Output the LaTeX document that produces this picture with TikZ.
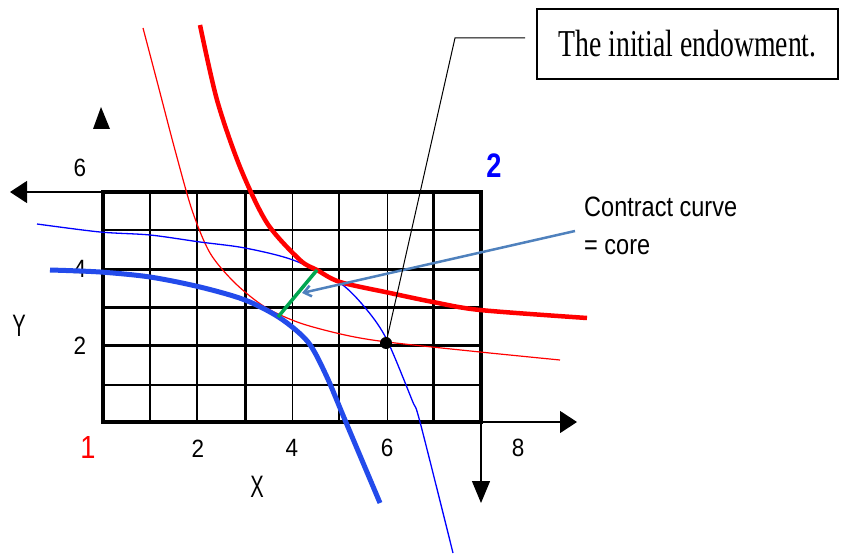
\documentclass[tikz,border=0pt]{standalone}
\usepackage{fontspec}
\usepackage{graphicx}
\usepackage{xcolor}
\usepackage{tikz}
\usetikzlibrary{positioning, arrows.meta}
\setmainfont{Liberation Serif}
\newfontfamily\arialfont{Liberation Sans}
\definecolor{thickblue}{RGB}{35,75,235}
\definecolor{coregreen}{RGB}{0,166,80}
\definecolor{steel}{RGB}{79,129,189}
\newcommand{\squash}[2]{\scalebox{#1}[1]{#2}}

\begin{document}
\begin{tikzpicture}[x=1pt, y=-1pt,
  gridline/.style={line width=#1},
  axisarrow/.style={line width=1.2pt, -{Triangle[length=17pt,width=22pt]}},
  redthick/.style={red, line width=4.5pt},
  redthin/.style={red, line width=1.2pt},
  bluethick/.style={thickblue, line width=5pt},
  bluethin/.style={blue, line width=1.3pt},
  coreline/.style={coregreen, line width=3.5pt},
  ccarrow/.style={steel, line width=2.5pt, -{Straight Barb[length=7pt,width=11pt]}},
  leader/.style={black, line width=1pt},
  tick/.style={font=\arialfont\fontsize{25}{25}\selectfont, inner sep=0pt},
  axlabel/.style={font=\arialfont\fontsize{31}{31}\selectfont, inner sep=0pt},
  endowbox/.style={draw, line width=2.6pt, minimum width=301pt, minimum height=70pt,
              font=\fontsize{38}{40}\selectfont, inner sep=0pt},
  cclabel/.style={font=\arialfont\fontsize{28}{38}\selectfont, align=left, inner sep=0pt}
]
  \useasboundingbox (0,0) rectangle (842,556);

  % Grid of the box
  \foreach \gx/\gw in {150/2pt, 197/2pt, 245/3pt, 292/1pt, 339/2.5pt, 387/1pt, 433/3pt}
    \draw[gridline=\gw] (\gx,192) -- (\gx,422);
  \foreach \gy/\gw in {230/2.5pt, 269/3pt, 307/3pt, 345/3pt, 385/2.5pt}
    \draw[gridline=\gw] (103,\gy) -- (481,\gy);
  \draw[gridline=3.5pt] (103,192) rectangle (481,422);

  % Axes
  \coordinate (origin1) at (103,422);
  \coordinate (origin2) at (481,192);
  \coordinate (corner) at (481,422);
  \coordinate (leftend) at (10,192);
  \coordinate (rightend) at (577,422);
  \coordinate (downend) at (481,503);
  \draw[axisarrow] (103,192) -- (leftend);
  \draw[axisarrow] (corner) -- (rightend);
  \draw[axisarrow, -{Triangle[length=22pt,width=18pt]}] (corner) -- (downend);
  \fill (101,107) -- (110,129) -- (93,129) -- cycle;

  % Axis labels
  \node[tick] (y6) at (80,168) {\squash{0.9}{6}};
  \node[tick] (y4) at (80,269) {\squash{0.9}{4}};
  \node[tick] (y2) at (80,346) {\squash{0.9}{2}};
  \node[tick] (x2) at (198,449) {\squash{0.9}{2}};
  \node[tick] (x4) at (292,448) {\squash{0.9}{4}};
  \node[tick] (x6) at (387,448) {\squash{0.9}{6}};
  \node[tick] (x8) at (518,448) {\squash{0.9}{8}};
  \node[axlabel] (ylab) at (19,326) {\squash{0.65}{Y}};
  \node[axlabel] (xlab) at (257,487) {\squash{0.65}{X}};
  \node[axlabel, red, font=\arialfont\fontsize{32}{32}\selectfont] (one) at (88,447) {\squash{0.85}{1}};
  \node[axlabel, blue, font=\arialfont\bfseries\fontsize{34}{34}\selectfont] (two) at (494,166) {\squash{0.8}{2}};

  % Indifference curves
  \draw[redthin] plot[smooth] coordinates {(143,28) (158,85) (175,150) (192,210) (210,253)
    (235,283) (265,307) (300,323) (345,335) (387,342) (480,352) (560,360)};
  \draw[bluethin] plot[smooth] coordinates {(37,224) (100,232) (150,235) (200,242) (245,248)
    (293,260) (340,283) (367,310) (387,340) (412,400) (420,422) (453,553)};
  \draw[redthick] plot[smooth] coordinates {(200,25) (217,100) (240,167) (267,223) (300,260)
    (317,270) (340,282) (390,293) (433,302) (480,310) (587,318)};
  \draw[bluethick] plot[smooth] coordinates {(50,270) (100,272) (150,277) (200,287) (245,300)
    (280,318) (308,342) (326,375) (345,420) (380,503)};

  % Contract curve
  \coordinate (core1) at (278,317);
  \coordinate (core2) at (317,270);
  \draw[coreline] (core1) -- (core2);
  \node[cclabel, anchor=north west] (core) at (584,197)
    {\squash{0.84}{Contract curve}\\\squash{0.84}{= core}};
  \coordinate (ccstart) at (575,231);
  \coordinate (cctip) at (302,293);
  \draw[ccarrow] (ccstart) -- (cctip);

  % Endowment
  \node[endowbox] (endow) at (687.5,44) {\squash{0.73}{The initial endowment.}};
  \node[circle, fill=black, minimum size=12pt, inner sep=0pt] (dot) at (386,343) {};
  \coordinate (leadbend) at (455,38);
  \coordinate (leadend) at (525,38);
  \draw[leader] (dot.center) -- (leadbend) -- (leadend);

\end{tikzpicture}
\end{document}
